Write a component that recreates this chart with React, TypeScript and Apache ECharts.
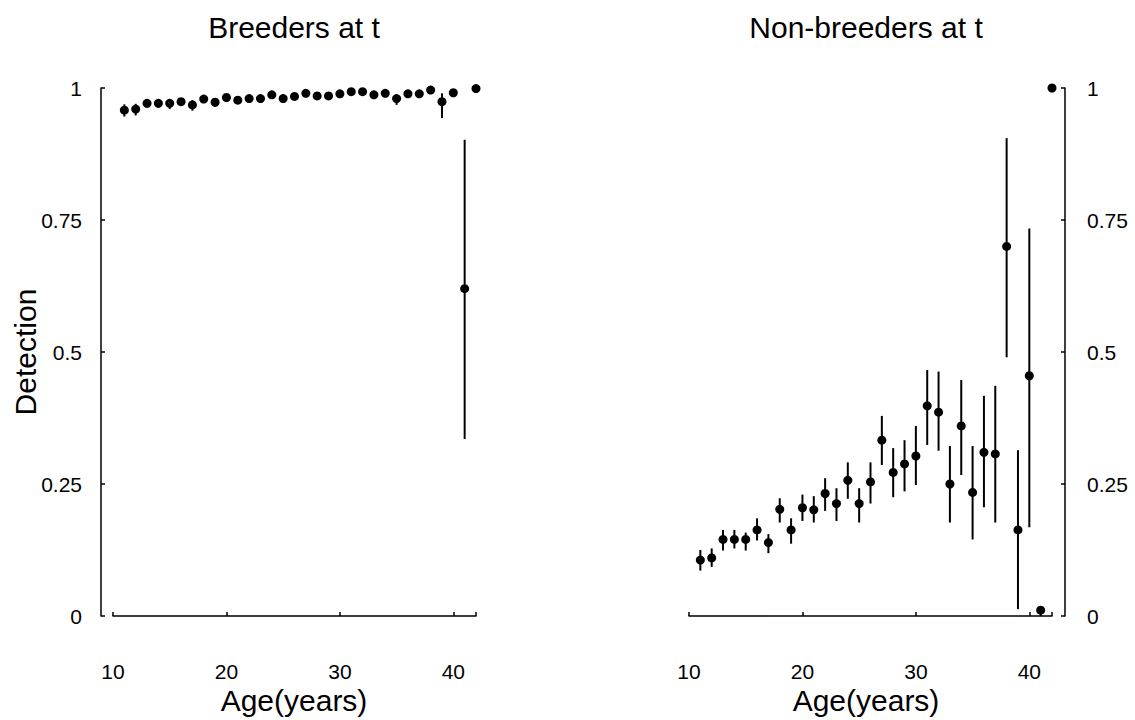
import React, { useEffect, useRef } from "react";
import * as echarts from "echarts";

const ages = [11, 12, 13, 14, 15, 16, 17, 18, 19, 20, 21, 22, 23, 24, 25, 26, 27, 28, 29, 30, 31, 32, 33, 34, 35, 36, 37, 38, 39, 40, 41, 42];

const breedersMean = [0.958, 0.960, 0.971, 0.971, 0.971, 0.974, 0.968, 0.979, 0.973, 0.982, 0.977, 0.980, 0.980, 0.987, 0.980, 0.984, 0.990, 0.985, 0.985, 0.989, 0.993, 0.993, 0.987, 0.990, 0.980, 0.989, 0.989, 0.996, 0.974, 0.991, 0.620, 0.999];
const breedersLow = [0.946, 0.948, 0.963, 0.963, 0.960, 0.966, 0.957, 0.972, 0.965, 0.975, 0.970, 0.973, 0.973, 0.980, 0.972, 0.977, 0.984, 0.978, 0.978, 0.983, 0.987, 0.987, 0.980, 0.983, 0.968, 0.982, 0.982, 0.990, 0.943, 0.983, 0.335, 0.998];
const breedersHigh = [0.969, 0.970, 0.978, 0.978, 0.979, 0.981, 0.977, 0.985, 0.980, 0.987, 0.983, 0.986, 0.986, 0.991, 0.986, 0.989, 0.994, 0.990, 0.990, 0.993, 0.996, 0.996, 0.992, 0.994, 0.988, 0.993, 0.993, 0.998, 0.990, 0.995, 0.902, 1.0];

const nonBreedersMean = [0.106, 0.110, 0.145, 0.145, 0.145, 0.163, 0.139, 0.202, 0.163, 0.205, 0.201, 0.232, 0.213, 0.257, 0.213, 0.254, 0.333, 0.272, 0.288, 0.303, 0.398, 0.386, 0.250, 0.360, 0.234, 0.310, 0.307, 0.700, 0.163, 0.455, 0.011, 1.0];
const nonBreedersLow = [0.086, 0.093, 0.124, 0.128, 0.124, 0.143, 0.119, 0.177, 0.137, 0.180, 0.177, 0.199, 0.180, 0.222, 0.177, 0.213, 0.286, 0.225, 0.236, 0.248, 0.324, 0.313, 0.177, 0.267, 0.145, 0.206, 0.177, 0.490, 0.013, 0.168, 0.0, 1.0];
const nonBreedersHigh = [0.125, 0.128, 0.163, 0.163, 0.158, 0.185, 0.155, 0.223, 0.185, 0.230, 0.227, 0.261, 0.242, 0.291, 0.242, 0.291, 0.379, 0.318, 0.333, 0.360, 0.466, 0.463, 0.322, 0.447, 0.322, 0.417, 0.436, 0.905, 0.314, 0.734, 0.016, 1.0];

const xTickValues = [10, 20, 30, 40, 42];
const xLabelValues = [10, 20, 30, 40];
const panelTitles = ["Breeders at t", "Non-breeders at t"];
const yAxisTitle = "Detection";
const xAxisTitle = "Age(years)";

const FONT = "'Liberation Sans', Arial, sans-serif";

export default function App() {
  const ref = useRef<HTMLDivElement>(null);
  useEffect(() => {
    if (!ref.current) return;
    const chart = echarts.init(ref.current, null, { renderer: "svg" });

    const axisLineStyle = { show: true, lineStyle: { color: "#000", width: 1.5 } };
    const makeX = (gridIndex: number) => ({
      type: "value",
      gridIndex,
      min: 10,
      max: 42,
      interval: 10,
      offset: 20,
      axisLine: axisLineStyle,
      axisTick: { show: true, inside: true, length: 4, customValues: xTickValues, lineStyle: { color: "#000", width: 1.5 } },
      axisLabel: { show: true, customValues: xLabelValues, color: "#000", fontSize: 21, fontFamily: FONT, margin: 25 },
      splitLine: { show: false },
    });
    const makeY = (gridIndex: number, position: string, offset: number, margin: number) => ({
      type: "value",
      gridIndex,
      position,
      min: 0,
      max: 1,
      interval: 0.25,
      offset,
      axisLine: axisLineStyle,
      axisTick: { show: true, inside: true, length: 4, lineStyle: { color: "#000", width: 1.5 } },
      axisLabel: { color: "#000", fontSize: 21, fontFamily: FONT, margin },
      splitLine: { show: false },
    });

    const errRender = (params: any, api: any) => {
      const x = api.value(0);
      const lo = api.coord([x, api.value(1)]);
      const hi = api.coord([x, api.value(2)]);
      return {
        type: "line",
        shape: { x1: lo[0], y1: lo[1], x2: hi[0], y2: hi[1] },
        style: { stroke: "#000", lineWidth: 2, opacity: 1 },
      };
    };

    const errSeries = (idx: number, low: number[], high: number[]) => ({
      type: "custom",
      xAxisIndex: idx,
      yAxisIndex: idx,
      renderItem: errRender,
      encode: { x: 0, y: [1, 2] },
      clip: false,
      data: ages.map((a, i) => [a, low[i], high[i]]),
      z: 2,
    });
    const pointSeries = (idx: number, mean: number[]) => ({
      type: "scatter",
      xAxisIndex: idx,
      yAxisIndex: idx,
      symbol: "circle",
      symbolSize: 9,
      itemStyle: { color: "#000", opacity: 1 },
      clip: false,
      data: ages.map((a, i) => [a, mean[i]]),
      z: 3,
    });

    chart.setOption({
      animation: false,
      backgroundColor: "#fff",
      grid: [
        { left: 113, top: 88, width: 363, height: 528 },
        { left: 689, top: 88, width: 363, height: 528 },
      ],
      xAxis: [makeX(0), makeX(1)],
      yAxis: [makeY(0, "left", 12, 19), makeY(1, "right", 13, 22)],
      series: [
        errSeries(0, breedersLow, breedersHigh),
        pointSeries(0, breedersMean),
        errSeries(1, nonBreedersLow, nonBreedersHigh),
        pointSeries(1, nonBreedersMean),
      ],
      graphic: [
        { type: "text", x: 294, y: 27, style: { text: panelTitles[0], fontSize: 30, fontFamily: FONT, fill: "#000", align: "center", verticalAlign: "middle" } },
        { type: "text", x: 866, y: 27, style: { text: panelTitles[1], fontSize: 30, fontFamily: FONT, fill: "#000", align: "center", verticalAlign: "middle" } },
        { type: "text", x: 294, y: 700, style: { text: xAxisTitle, fontSize: 30, fontFamily: FONT, fill: "#000", align: "center", verticalAlign: "middle" } },
        { type: "text", x: 866, y: 700, style: { text: xAxisTitle, fontSize: 30, fontFamily: FONT, fill: "#000", align: "center", verticalAlign: "middle" } },
        { type: "text", x: 25, y: 352, rotation: Math.PI / 2, style: { text: yAxisTitle, fontSize: 30, fontFamily: FONT, fill: "#000", align: "center", verticalAlign: "middle" } },
      ],
    });
    return () => chart.dispose();
  }, []);
  return <div ref={ref} style={{ position: "fixed", left: 0, top: 0, width: 1135, height: 720, background: "#fff" }} />;
}
